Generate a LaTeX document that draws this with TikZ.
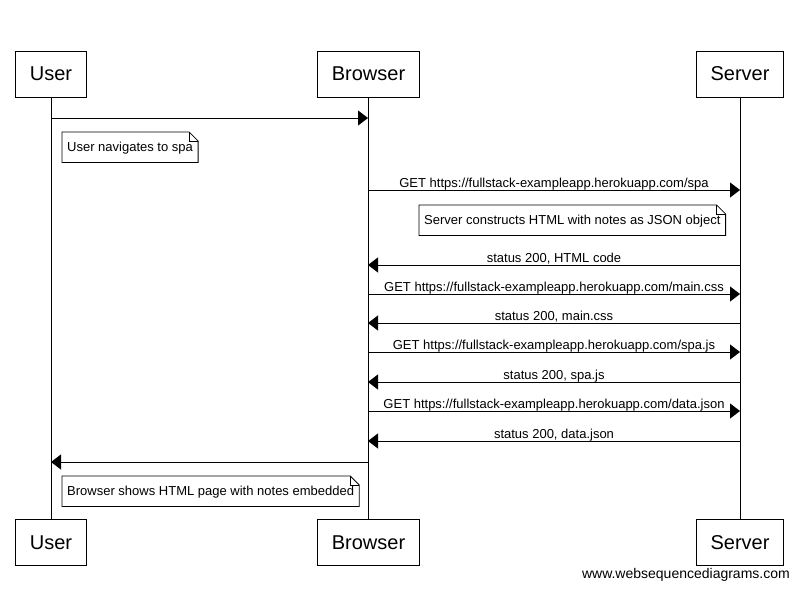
\documentclass[tikz,border=0pt]{standalone}
\usepackage{fontspec}
\setmainfont{Liberation Sans}
\usetikzlibrary{arrows.meta,positioning}

\tikzset{
  actor/.style={draw, line width=1pt, minimum height=46pt, inner xsep=14.5pt, font=\fontsize{20}{24}\selectfont},
  msg/.style={line width=1pt, -{Triangle[length=10pt,width=15pt]}},
  msglabel/.style={anchor=base, inner sep=0pt, font=\fontsize{13}{15}\selectfont},
  notetext/.style={anchor=north west, minimum height=30pt, inner xsep=5pt, text height=9.5pt, text depth=0pt, font=\fontsize{13}{15}\selectfont},
}

% Notiz mit Eselsohr
\newcommand{\dogear}[1]{%
  \draw[line width=0.8pt] (#1.north west) -- ([xshift=-9pt]#1.north east) -- ([yshift=-9pt]#1.north east) -- (#1.south east) -- (#1.south west) -- cycle;
  \draw[line width=0.8pt] ([xshift=-9pt]#1.north east) |- ([yshift=-9pt]#1.north east);
}

\begin{document}
\begin{tikzpicture}[x=1pt, y=-1pt]
  \useasboundingbox (0,0) rectangle (799,590);

  % Teilnehmer oben und unten
  \node[actor] (usertop) at (51,74) {User};
  \node[actor] (browsertop) at (368.5,74) {Browser};
  \node[actor] (servertop) at (740,74) {Server};
  \node[actor] (userbot) at (51,542.5) {User};
  \node[actor] (browserbot) at (368.5,542.5) {Browser};
  \node[actor] (serverbot) at (740,542.5) {Server};

  % Lebenslinien
  \draw[line width=1pt] (usertop) -- (userbot);
  \draw[line width=1pt] (browsertop) -- (browserbot);
  \draw[line width=1pt] (servertop) -- (serverbot);

  % Punkte auf den Lebenslinien
  \coordinate (u1) at (51,118);   \coordinate (b1) at (368,118);
  \coordinate (b2) at (368,190);  \coordinate (s2) at (740,190);
  \coordinate (b3) at (368,265);  \coordinate (s3) at (740,265);
  \coordinate (b4) at (368,294);  \coordinate (s4) at (740,294);
  \coordinate (b5) at (368,323);  \coordinate (s5) at (740,323);
  \coordinate (b6) at (368,352);  \coordinate (s6) at (740,352);
  \coordinate (b7) at (368,382);  \coordinate (s7) at (740,382);
  \coordinate (b8) at (368,411);  \coordinate (s8) at (740,411);
  \coordinate (b9) at (368,441);  \coordinate (s9) at (740,441);
  \coordinate (b10) at (368,462); \coordinate (u10) at (51,462);

  % Nachrichten
  \draw[msg] (u1) -- (b1);
  \draw[msg] (b2) -- (s2) node[msglabel, midway, yshift=3pt] {GET https://fullstack-exampleapp.herokuapp.com/spa};
  \draw[msg] (s3) -- (b3) node[msglabel, midway, yshift=3pt] {status 200, HTML code};
  \draw[msg] (b4) -- (s4) node[msglabel, midway, yshift=3pt] {GET https://fullstack-exampleapp.herokuapp.com/main.css};
  \draw[msg] (s5) -- (b5) node[msglabel, midway, yshift=3pt] {status 200, main.css};
  \draw[msg] (b6) -- (s6) node[msglabel, midway, yshift=3pt] {GET https://fullstack-exampleapp.herokuapp.com/spa.js};
  \draw[msg] (s7) -- (b7) node[msglabel, midway, yshift=3pt] {status 200, spa.js};
  \draw[msg] (b8) -- (s8) node[msglabel, midway, yshift=3pt] {GET https://fullstack-exampleapp.herokuapp.com/data.json};
  \draw[msg] (s9) -- (b9) node[msglabel, midway, yshift=3pt] {status 200, data.json};
  \draw[msg] (b10) -- (u10);

  % Notizen
  \node[notetext, fill=white] (note1) at (62,132) {User navigates to spa};
  \dogear{note1}
  \node[notetext, fill=white] (note2) at (419,205) {Server constructs HTML with notes as JSON object};
  \dogear{note2}
  \node[notetext, fill=white] (note3) at (62,476) {Browser shows HTML page with notes embedded};
  \dogear{note3}

  % Fusszeile
  \node[anchor=east, inner sep=0pt, font=\fontsize{14}{16}\selectfont] (footer) at (790,575) {www.websequencediagrams.com};
\end{tikzpicture}
\end{document}
